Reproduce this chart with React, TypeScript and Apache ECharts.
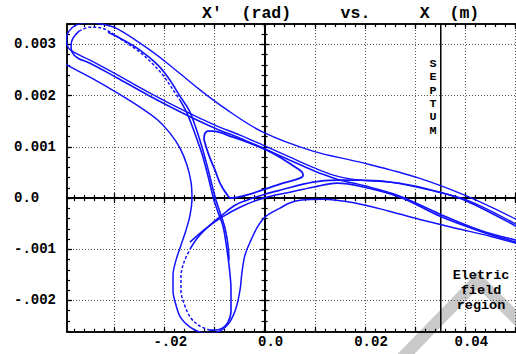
import React, { useEffect, useRef } from "react";
import * as echarts from "echarts";

// ---- axis extents (m, rad) ----
const X_MIN = -0.03937;
const X_MAX = 0.05009;
const Y_MIN = -0.00261;
const Y_MAX = 0.0034;
const SEPTUM_X = 0.0351;

// ---- ticks / labels ----
const xMajor = [-0.03, -0.02, -0.01, 0, 0.01, 0.02, 0.03, 0.04, 0.05];
const xMinor = Array.from({ length: 45 }, (_, i) => +(-0.038 + i * 0.002).toFixed(4));
const xLabelValues = [-0.02, 0, 0.02, 0.04];
const xLabelTexts = ["-.02", "0.0", "0.02", "0.04"];
const yMajor = [-0.002, -0.001, 0, 0.001, 0.002, 0.003];
const yMinor = Array.from({ length: 31 }, (_, i) => +(-0.0026 + i * 0.0002).toFixed(5));
const yLabelTexts = ["-.002", "-.001", "0.0", "0.001", "0.002", "0.003"];

const septumLetters = ["S", "E", "P", "T", "U", "M"];
const regionLines = ["Eletric", "field", "region"];

// ---- phase-space traces: [X (m), X' (rad)] ----
const outerTopLobe = [
  [0.05009, -0.000412], [0.04033, 0.000037], [0.03076, 0.000389], [0.01901, 0.000701], [0.00964, 0.000916],
  [-0.00032, 0.001287], [-0.00769, 0.001736], [-0.01307, 0.002127], [-0.01964, 0.002654], [-0.02423, 0.002986],
  [-0.02961, 0.003318], [-0.0328, 0.003406], [-0.03519, 0.003426], [-0.03758, 0.003377], [-0.03897, 0.00326],
  [-0.03947, 0.003123], [-0.03937, 0.002986], [-0.03837, 0.002869], [-0.03479, 0.002693], [-0.02961, 0.00242],
  [-0.02283, 0.002049], [-0.01586, 0.001697], [-0.00988, 0.001424], [-0.0049, 0.001229], [-0.00032, 0.001033],
  [0.00506, 0.000799], [0.01004, 0.000584], [0.01443, 0.000428], [0.01901, 0.00035], [0.02498, 0.000311],
  [0.03296, 0.000154], [0.04033, -0.000041], [0.05009, -0.00051],
];

const innerSeparatrix = [
  [0.05009, -0.000822], [0.04292, -0.000627], [0.03495, -0.000314], [0.02698, 0.000037], [0.021, 0.000213],
  [0.01602, 0.00033], [0.01443, 0.000369], [0.01004, 0.000525], [0.00506, 0.00074], [-0.00032, 0.000975],
  [-0.0049, 0.00117], [-0.00988, 0.001365], [-0.01586, 0.001639], [-0.02283, 0.00199], [-0.02961, 0.002361],
  [-0.03479, 0.002635], [-0.03718, 0.002732], [-0.03837, 0.00285], [-0.03857, 0.002986], [-0.03817, 0.003123],
  [-0.03698, 0.00326], [-0.03479, 0.003338], [-0.0324, 0.003318], [-0.02981, 0.003182], [-0.02742, 0.003025],
  [-0.02483, 0.00285], [-0.02243, 0.002635], [-0.02024, 0.0024], [-0.01845, 0.002146], [-0.01686, 0.001912],
  [-0.01546, 0.001658], [-0.01427, 0.001365], [-0.01327, 0.001092], [-0.01227, 0.000799], [-0.01148, 0.000506],
  [-0.01068, 0.000193], [-0.01008, -0.000041], [-0.00928, -0.000275], [-0.00829, -0.000549], [-0.00769, -0.000881],
  [-0.00709, -0.001311], [-0.00669, -0.001799], [-0.00669, -0.002189], [-0.00729, -0.002424], [-0.00889, -0.002561],
  [-0.01088, -0.00258], [-0.01287, -0.002502], [-0.01466, -0.002346], [-0.01586, -0.002111], [-0.01666, -0.001799],
  [-0.01666, -0.001525], [-0.01606, -0.001252], [-0.01486, -0.000998], [-0.01327, -0.000764], [-0.01088, -0.000529],
  [-0.00849, -0.000334], [-0.0059, -0.000139], [-0.00351, -0.000041], [0.00008, 0.000076], [0.00307, 0.000154],
  [0.00964, 0.000311], [0.01443, 0.00035], [0.01901, 0.00035], [0.02698, 0.000291], [0.03495, 0.000115],
  [0.04033, -0.000061], [0.05009, -0.000549],
];
// index ranges of innerSeparatrix drawn with a sparse (dashed) trace
const sparseRanges = [[20, 29], [45, 52]];

const outerLobe = [
  [0.05009, -0.000881], [0.04491, -0.000744], [0.03813, -0.000588], [0.03156, -0.000432], [0.02479, -0.000256],
  [0.01821, -0.0001], [0.01164, -0.000021], [0.00705, -0.000041], [0.00486, -0.0001], [0.00307, -0.000197],
  [0.00028, -0.000354], [-0.00132, -0.000549], [-0.00271, -0.000822], [-0.00391, -0.001115], [-0.0045, -0.001447],
  [-0.0049, -0.001799], [-0.0057, -0.00215], [-0.00709, -0.002443], [-0.00889, -0.0026], [-0.01088, -0.002639],
  [-0.01287, -0.002619], [-0.01486, -0.002521], [-0.01666, -0.002346], [-0.01765, -0.002092], [-0.01825, -0.001799],
  [-0.01825, -0.001506], [-0.01765, -0.001213], [-0.01666, -0.00092], [-0.01566, -0.000627], [-0.01486, -0.000334],
  [-0.01447, -0.000002], [-0.01466, 0.000311], [-0.01546, 0.000643], [-0.01686, 0.000975], [-0.01885, 0.001268],
  [-0.02124, 0.001521], [-0.02483, 0.001775], [-0.02961, 0.002068], [-0.03479, 0.002361], [-0.03937, 0.002596],
  [-0.0408, 0.002674],
];

const leftArm = [
  [-0.0312, 0.00324], [-0.02881, 0.003123], [-0.02483, 0.002889], [-0.02124, 0.002596], [-0.01885, 0.002303],
  [-0.01686, 0.00199], [-0.01506, 0.001717], [-0.01367, 0.001365], [-0.01247, 0.000994], [-0.01148, 0.000643],
  [-0.01048, 0.000252], [-0.00968, -0.000041], [-0.00889, -0.000275], [-0.00789, -0.000588], [-0.00729, -0.00092],
  [-0.00709, -0.001213],
];

const bottomArm = [
  [-0.01486, -0.000861], [-0.01187, -0.000607], [-0.00849, -0.000373], [-0.0049, -0.000178], [-0.00032, -0.000002],
  [0.00506, 0.000115], [0.00964, 0.000213], [0.01443, 0.000291], [0.01901, 0.000232], [0.02698, 0.000018],
  [0.03495, -0.000354], [0.04292, -0.000646], [0.05009, -0.000861],
];

const stableIsland = [
  [-0.01148, 0.001307], [-0.01028, 0.001307], [-0.0063, 0.001189], [-0.00291, 0.001072], [0.00048, 0.000936],
  [0.00367, 0.00076], [0.00646, 0.000584], [0.00745, 0.000506], [0.00765, 0.000447], [0.00705, 0.000389],
  [0.00367, 0.000291], [0.00008, 0.000174], [-0.00291, 0.000076], [-0.0053, 0.000018], [-0.00669, -0.000002],
  [-0.00769, 0.000096], [-0.00889, 0.000291], [-0.00988, 0.000545], [-0.01088, 0.000779], [-0.01168, 0.001014],
  [-0.01207, 0.00117], [-0.01187, 0.001268], [-0.01148, 0.001307],
];

const septumLine = [[SEPTUM_X, Y_MIN], [SEPTUM_X, Y_MAX]];

const FONT = '"Liberation Mono", "Courier New", monospace';
const BLUE = "#1212ff";

function lookup(values: number[], texts: string[], v: number) {
  const i = values.findIndex((t) => Math.abs(t - v) < 1e-9);
  return i >= 0 ? texts[i] : "";
}

function xAxisDef(o: any) {
  return {
    type: "value",
    min: X_MIN,
    max: X_MAX,
    position: o.pos,
    axisLine: {
      show: true,
      onZero: !!o.onZero,
      ...(o.onZero ? { onZeroAxisIndex: 0 } : {}),
      lineStyle: { color: "#000", width: o.onZero ? 2 : 1.5 },
    },
    axisTick: { show: true, inside: o.inside, length: o.len, customValues: o.values, lineStyle: { color: "#000", width: 1.2 } },
    axisLabel: o.labels
      ? {
          show: true,
          customValues: xLabelValues,
          formatter: (v: number) => lookup(xLabelValues, xLabelTexts, v),
          fontFamily: FONT,
          fontWeight: "bold",
          fontSize: 14,
          color: "#000",
          margin: 3,
          padding: [0, 0, 0, 12],
        }
      : { show: false },
    splitLine: o.split ? { show: true, lineStyle: { color: "#555", type: [1, 2], width: 1 } } : { show: false },
  };
}

function yAxisDef(o: any) {
  return {
    type: "value",
    min: Y_MIN,
    max: Y_MAX,
    position: "left",
    axisLine: {
      show: true,
      onZero: !!o.onZero,
      ...(o.onZero ? { onZeroAxisIndex: 0 } : {}),
      lineStyle: { color: "#000", width: o.onZero ? 2 : 1.5 },
    },
    axisTick: { show: true, inside: o.inside, length: o.len, customValues: o.values, lineStyle: { color: "#000", width: 1.2 } },
    axisLabel: o.labels
      ? {
          show: true,
          customValues: yMajor,
          formatter: (v: number) => lookup(yMajor, yLabelTexts, v),
          fontFamily: FONT,
          fontWeight: "bold",
          fontSize: 14,
          color: "#000",
          align: "left",
          margin: 53,
        }
      : { show: false },
    splitLine: o.split ? { show: true, lineStyle: { color: "#555", type: [1, 2], width: 1 } } : { show: false },
  };
}

function curve(d: number[][], dashed = false, width = 1.6) {
  return {
    type: "line",
    data: d,
    xAxisIndex: 0,
    yAxisIndex: 0,
    showSymbol: false,
    symbol: "none",
    smooth: 0.35,
    clip: true,
    silent: true,
    lineStyle: { color: BLUE, width, type: dashed ? [3, 2] : "solid" },
  };
}

export default function App() {
  const ref = useRef<HTMLDivElement>(null);
  useEffect(() => {
    if (!ref.current) return;
    const chart = echarts.init(ref.current, null, { renderer: "svg" });

    const innerPieces: any[] = [];
    let start = 0;
    sparseRanges.forEach(([a, b]) => {
      innerPieces.push(curve(innerSeparatrix.slice(start, a + 1)));
      innerPieces.push(curve(innerSeparatrix.slice(a, b + 1), true, 1.5));
      start = b;
    });
    innerPieces.push(curve(innerSeparatrix.slice(start)));

    const septumTexts = septumLetters.map((ch, i) => ({
      type: "text",
      z: 100,
      x: 433,
      y: 58 + i * 13.3,
      style: { text: ch, font: `bold 11.7px ${FONT}`, fill: "#000", align: "center", verticalAlign: "top" },
    }));
    const regionTexts = regionLines.map((t, i) => ({
      type: "text",
      z: 100,
      x: 481,
      y: 268 + i * 15.3,
      style: { text: t, font: `bold 13.5px ${FONT}`, fill: "#000", align: "center", verticalAlign: "top" },
    }));

    const option: any = {
      animation: false,
      backgroundColor: "#fff",
      grid: { left: 67, right: 0, top: 24, bottom: 22.3, containLabel: false },
      xAxis: [
        xAxisDef({ pos: "bottom", values: xMajor, len: 5, inside: true, labels: true, split: true }),
        xAxisDef({ pos: "bottom", values: xMinor, len: 3, inside: true }),
        xAxisDef({ pos: "top", values: xMajor, len: 5, inside: true }),
        xAxisDef({ pos: "top", values: xMinor, len: 3, inside: true }),
        xAxisDef({ pos: "bottom", onZero: true, values: xMajor, len: 5, inside: true }),
        xAxisDef({ pos: "bottom", onZero: true, values: xMajor, len: 5, inside: false }),
        xAxisDef({ pos: "bottom", onZero: true, values: xMinor, len: 3, inside: true }),
        xAxisDef({ pos: "bottom", onZero: true, values: xMinor, len: 3, inside: false }),
      ],
      yAxis: [
        yAxisDef({ values: yMajor, len: 5, inside: true, labels: true, split: true }),
        yAxisDef({ values: yMinor, len: 3, inside: true }),
        yAxisDef({ onZero: true, values: yMajor, len: 5, inside: true }),
        yAxisDef({ onZero: true, values: yMajor, len: 5, inside: false }),
        yAxisDef({ onZero: true, values: yMinor, len: 3, inside: true }),
        yAxisDef({ onZero: true, values: yMinor, len: 3, inside: false }),
      ],
      series: [
        {
          type: "line",
          data: septumLine,
          xAxisIndex: 0,
          yAxisIndex: 0,
          showSymbol: false,
          symbol: "none",
          silent: true,
          lineStyle: { color: "#000", width: 1.5 },
        },
        curve(outerTopLobe, false, 1.4),
        ...innerPieces,
        curve(outerLobe, false, 1.5),
        curve(leftArm),
        curve(bottomArm),
        curve(stableIsland, false, 1.8),
      ],
      graphic: [
        {
          type: "polyline",
          z: -10,
          silent: true,
          shape: { points: [[402, 358], [478, 280], [522, 324]] },
          style: { stroke: "#c9c9c9", lineWidth: 12, fill: "none", lineJoin: "miter" },
        },
        {
          type: "text",
          z: 100,
          x: 202,
          y: 13,
          style: { text: "X′  (rad)     vs.     X  (m)", font: `bold 16.5px ${FONT}`, fill: "#000", verticalAlign: "middle" },
        },
        ...septumTexts,
        ...regionTexts,
      ],
    };
    chart.setOption(option);
    return () => chart.dispose();
  }, []);
  return <div ref={ref} style={{ position: "absolute", left: 0, top: 0, width: 516, height: 354 }} />;
}
